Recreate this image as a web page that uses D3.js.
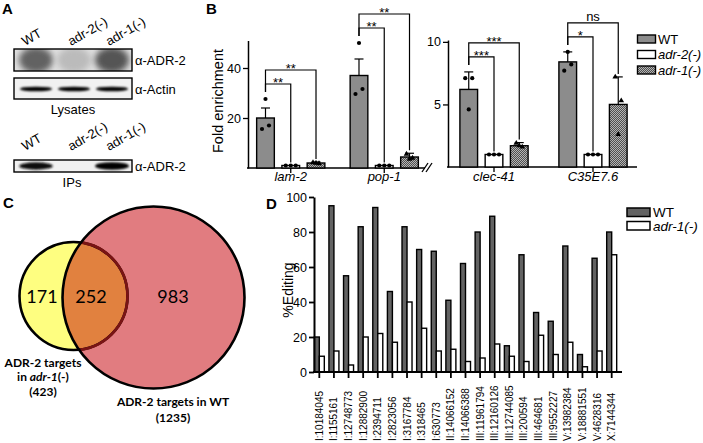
<!DOCTYPE html>
<html><head><meta charset="utf-8">
<script src="https://cdn.jsdelivr.net/npm/d3@7"></script>
<style>
html,body{margin:0;padding:0;background:#fff;}
svg{display:block;font-family:"Liberation Sans",Arial,sans-serif;}
</style></head>
<body>
<svg id="fig" width="703" height="443"></svg>
<script>
// ---------- Panel A data (relative band intensities) ----------
const blotLanes = ["WT", "adr-2(-)", "adr-1(-)"];
const lysateAdr2 = [0.75, 0.06, 0.85];
const lysateActin = [0.95, 0.95, 0.95];
const ipAdr2 = [0.9, 0.0, 1.0];

// ---------- Panel B data ----------
const genesLeft = ["lam-2", "pop-1"];
const genesRight = ["clec-41", "C35E7.6"];
const genesB = ["lam-2", "pop-1", "clec-41", "C35E7.6"];
const strainsB = ["WT", "adr-2(-)", "adr-1(-)"];
const meanWT = [20, 37, 6.2, 8.4];
const meanAdr2 = [1, 1, 1, 1];
const meanAdr1 = [2, 4.4, 1.7, 5.0];
const semWT = [4, 6.6, 1.4, 0.8];
const semAdr2 = [0, 0, 0, 0];
const semAdr1 = [0.4, 1.5, 0.25, 2.2];
const repWT = [[27.6, 17, 15.6], [50, 31.6, 29.6], [4.6, 7.1, 7.1], [9.2, 8.2, 7.7]];
const repAdr2 = [[1, 1, 1], [1, 1, 1], [1, 1, 1], [1, 1, 1]];
const repAdr1 = [[2.2, 1.8, 2.0], [5.6, 4.0, 3.6], [1.9, 1.6, 1.7], [7.2, 5.3, 2.6]];
const sigAdr2 = ["**", "**", "***", "*"];
const sigAdr1 = ["**", "**", "***", "ns"];
const ticksLeft = [20, 40];
const ticksRight = [5, 10];

// ---------- Panel C data ----------
const vennOnlyAdr1 = 171, vennBoth = 252, vennOnlyWT = 983;
const vennTotalAdr1 = 423, vennTotalWT = 1235;

// ---------- Panel D data ----------
const sites = ["I:10184045","I:1155161","I:12748773","I:12882900","I:2394711","I:2823056","I:3167784","I:318465","I:630773","II:14066152","II:14066388","III:11961794","III:12160126","III:12744085","III:200594","III:464681","III:9552227","V:13982384","V:18881551","V:4628316","X:7144344"];
const editWT =   [20, 95, 55, 83, 94, 46, 83, 70, 69, 41, 62, 80, 89, 15, 67, 34, 29, 72, 10, 65, 80];
const editAdr1 = [9, 12, 4, 20, 22, 17, 40, 25, 12, 13, 6, 8, 16, 9, 6, 21, 10, 17, 3, 12, 67];
const ticksD = [0, 20, 40, 60, 80, 100];
const strainsD = ["WT", "adr-1(-)"];

const svg = d3.select("#fig");
const defs = svg.append("defs");
defs.append("filter").attr("id","blurS").attr("x","-50%").attr("y","-50%").attr("width","200%").attr("height","200%")
  .append("feGaussianBlur").attr("stdDeviation", 3.2);
defs.append("filter").attr("id","blurB").attr("x","-50%").attr("y","-100%").attr("width","200%").attr("height","300%")
  .append("feGaussianBlur").attr("stdDeviation", 1.3);
const pat = defs.append("pattern").attr("id","hatch").attr("width",2).attr("height",2).attr("patternUnits","userSpaceOnUse");
pat.append("rect").attr("width",2).attr("height",2).attr("fill","#505050");
pat.append("rect").attr("width",1).attr("height",1).attr("fill","#b4b4b4");
pat.append("rect").attr("x",1).attr("y",1).attr("width",1).attr("height",1).attr("fill","#b4b4b4");

// panel letters
const letters = [["A",2,14],["B",206,14],["C",3,208],["D",266,209]];
svg.selectAll("text.letter").data(letters).join("text").attr("class","letter")
  .attr("x",d=>d[1]).attr("y",d=>d[2]).text(d=>d[0])
  .attr("font-weight","bold").attr("font-size",15);

// ================= Panel A =================
(function(){
  const g = svg.append("g");
  const lane = d3.scaleBand().domain(blotLanes).range([17, 131]);
  const bx0 = 14, bx1 = 132;
  function blot(y0, h, vals, kind){
    const gg = g.append("g");
    const cid = "clip"+y0;
    defs.append("clipPath").attr("id",cid).append("rect").attr("x",bx0).attr("y",y0).attr("width",bx1-bx0).attr("height",h);
    gg.append("rect").attr("x",bx0).attr("y",y0).attr("width",bx1-bx0).attr("height",h)
      .attr("fill", kind==="smudge" ? "#e2e2e2" : "#f1f1f1");
    const inner = gg.append("g").attr("clip-path",`url(#${cid})`);
    blotLanes.forEach((l,i)=>{
      const c = lane(l) + lane.bandwidth()/2;
      const v = vals[i];
      if (v <= 0) return;
      if (kind==="smudge"){
        inner.append("ellipse").attr("cx",c).attr("cy",y0+h/2).attr("rx",17).attr("ry",h/2+2)
          .attr("fill", d3.interpolateGreys(0.35+0.45*v)).attr("filter","url(#blurS)");
      } else if (kind==="thin"){
        inner.append("ellipse").attr("cx",c).attr("cy",y0+h/2+0.5).attr("rx",16).attr("ry",2.3)
          .attr("fill", d3.interpolateGreys(0.6+0.4*v)).attr("filter","url(#blurB)");
      } else {
        inner.append("ellipse").attr("cx",c).attr("cy",y0+h/2).attr("rx",15+2*v).attr("ry",2.6+1.2*v)
          .attr("fill", d3.interpolateGreys(0.55+0.45*v)).attr("filter","url(#blurB)");
      }
    });
    gg.append("rect").attr("x",bx0).attr("y",y0).attr("width",bx1-bx0).attr("height",h)
      .attr("fill","none").attr("stroke","#000").attr("stroke-width",1.4);
  }
  blot(49, 22, lysateAdr2, "smudge");
  blot(78, 21, lysateActin, "thin");
  blot(160, 12, ipAdr2, "band");
  const fs = 13;
  [["α-ADR-2",65],["α-Actin",94],["α-ADR-2",171]].forEach(t=>{
    g.append("text").attr("x",135).attr("y",t[1]).attr("font-size",fs).text(t[0]);
  });
  g.append("text").attr("x",73).attr("y",114).attr("text-anchor","middle").attr("font-size",fs).text("Lysates");
  g.append("text").attr("x",72).attr("y",187).attr("text-anchor","middle").attr("font-size",fs).text("IPs");
  [46, 151].forEach(yb=>{
    blotLanes.forEach((l,i)=>{
      const c = lane(l) + lane.bandwidth()/2;
      const x = c - (i===0 ? 11 : 3);
      g.append("text").attr("transform",`translate(${x},${yb}) rotate(-30)`)
        .attr("font-size",13).text(l);
    });
  });
})();

// ================= Panel B =================
(function(){
  const g = svg.append("g");
  const yL = d3.scaleLinear().domain([0, 51]).range([168, 40.5]);
  const yR = d3.scaleLinear().domain([0, 10.15]).range([167, 40]);
  const xL = d3.scaleBand().domain(genesLeft).range([244, 431]);
  const xR = d3.scaleBand().domain(genesRight).range([444.5, 642.5]);
  const inner = d3.scaleBand().domain(strainsB).range([-34.1, 34.1]).paddingInner(0.3);
  const bw = inner.bandwidth();
  const means = [meanWT, meanAdr2, meanAdr1];
  const sems = [semWT, semAdr2, semAdr1];
  const reps = [repWT, repAdr2, repAdr1];
  const fills = ["#8c8c8c", "#ffffff", "url(#hatch)"];
  const jit = [[0, 3.5, -3.5], [-5, 0, 5], [-3, 3, 0]];

  const axL = g.append("g").attr("transform","translate(248,0)")
    .call(d3.axisLeft(yL).tickValues(ticksLeft).tickSize(5).tickSizeOuter(0).tickPadding(2));
  const axR = g.append("g").attr("transform","translate(448,0)")
    .call(d3.axisLeft(yR).tickValues(ticksRight).tickSize(5).tickSizeOuter(0).tickPadding(2));
  [axL, axR].forEach(a=>{
    a.select(".domain").attr("stroke-width",1.5);
    a.selectAll(".tick line").attr("stroke-width",1.3);
    a.selectAll("text").attr("font-size",12.5).attr("font-family","Liberation Sans, Arial, sans-serif");
  });
  g.append("line").attr("x1",247).attr("x2",425).attr("y1",168).attr("y2",168).attr("stroke","#000").attr("stroke-width",1.5);
  g.append("line").attr("x1",447).attr("x2",637).attr("y1",167).attr("y2",167).attr("stroke","#000").attr("stroke-width",1.5);
  [[422,428],[426,432]].forEach(p=>{
    g.append("line").attr("x1",p[0]).attr("y1",172).attr("x2",p[1]).attr("y2",163).attr("stroke","#000").attr("stroke-width",1.3);
  });
  g.append("text").attr("transform","translate(223,101) rotate(-90)").attr("text-anchor","middle")
    .attr("font-size",14.5).text("Fold enrichment");

  genesB.forEach((gene, gi)=>{
    const left = gi < 2;
    const x = left ? xL : xR, y = left ? yL : yR;
    const gc = x(gene) + x.bandwidth()/2;
    const base = left ? 168 : 167;
    const c2 = gc + inner("adr-2(-)") + bw/2;
    g.append("line").attr("x1",c2).attr("x2",c2).attr("y1",base).attr("y2",base+5).attr("stroke","#000").attr("stroke-width",1.3);
    g.append("text").attr("x",c2).attr("y",181).attr("text-anchor","middle").attr("font-style","italic")
      .attr("font-size",13).text(gene);
    strainsB.forEach((s, si)=>{
      const bx = gc + inner(s);
      const m = means[si][gi], e = sems[si][gi];
      const cx = bx + bw/2;
      if (e > 0){
        g.append("line").attr("x1",cx).attr("x2",cx).attr("y1",y(m)).attr("y2",y(m+e)).attr("stroke","#000").attr("stroke-width",1.2);
        g.append("line").attr("x1",cx-4.5).attr("x2",cx+4.5).attr("y1",y(m+e)).attr("y2",y(m+e)).attr("stroke","#000").attr("stroke-width",1.2);
      }
      g.append("rect").attr("x",bx).attr("y",y(m)).attr("width",bw).attr("height",base-y(m))
        .attr("fill",fills[si]).attr("stroke","#000").attr("stroke-width",1.4);
      reps[si][gi].forEach((r, ri)=>{
        const px = cx + jit[si][ri], py = y(r);
        if (si === 2){
          g.append("path").attr("d", d3.symbol(d3.symbolTriangle, 14)()).attr("transform",`translate(${px},${py})`).attr("fill","#000");
        } else {
          g.append("circle").attr("cx",px).attr("cy",py).attr("r",2.1).attr("fill","#000");
        }
      });
    });
    const cW = gc + inner("WT") + bw/2;
    const topWT = Math.max(meanWT[gi]+semWT[gi], d3.max(repWT[gi]));
    const lvl1 = y(topWT) - 15, lvl2 = lvl1 - 14;
    const legBottom = y(topWT) - 7;
    [[1, lvl1, sigAdr2[gi]], [2, lvl2, sigAdr1[gi]]].forEach(([si, ly, lab])=>{
      const s = strainsB[si];
      const cx = gc + inner(s) + bw/2;
      const tgt = Math.max(means[si][gi]+sems[si][gi], d3.max(reps[si][gi]));
      const rb = y(tgt) - 3;
      g.append("path").attr("d",`M${cW},${legBottom}V${ly}H${cx}V${rb}`)
        .attr("fill","none").attr("stroke","#000").attr("stroke-width",1.2);
      const isNs = lab === "ns";
      g.append("text").attr("x",(cW+cx)/2).attr("y", isNs ? ly-2 : ly+3).attr("text-anchor","middle")
        .attr("font-size", 13).text(lab);
    });
  });
  const leg = g.append("g");
  strainsB.forEach((s, si)=>{
    const yy = 35 + si*15.5;
    leg.append("rect").attr("x",637.5).attr("y",yy).attr("width",18).attr("height",8)
      .attr("fill",fills[si]).attr("stroke","#000").attr("stroke-width",1.4);
    leg.append("text").attr("x",658).attr("y",yy+8.5).attr("font-size",13)
      .attr("font-style", si===0 ? "normal" : "italic").text(s);
  });
})();

// ================= Panel C =================
(function(){
  const g = svg.append("g");
  const pink = {cx:153.5, cy:297.5, r:91};
  const yel = {cx:73.5, cy:296, r:54};
  defs.append("clipPath").attr("id","clipYel").append("circle").attr("cx",yel.cx).attr("cy",yel.cy).attr("r",yel.r);
  defs.append("clipPath").attr("id","clipPink").append("circle").attr("cx",pink.cx).attr("cy",pink.cy).attr("r",pink.r);
  g.append("circle").attr("cx",pink.cx).attr("cy",pink.cy).attr("r",pink.r).attr("fill","#e17c80");
  g.append("circle").attr("cx",yel.cx).attr("cy",yel.cy).attr("r",yel.r).attr("fill","#fefe80");
  g.append("circle").attr("cx",pink.cx).attr("cy",pink.cy).attr("r",pink.r).attr("fill","#e1813f").attr("clip-path","url(#clipYel)");
  g.append("circle").attr("cx",yel.cx).attr("cy",yel.cy).attr("r",yel.r).attr("fill","none").attr("stroke","#000").attr("stroke-width",2.6);
  g.append("circle").attr("cx",yel.cx).attr("cy",yel.cy).attr("r",yel.r).attr("fill","none").attr("stroke","#7a1414").attr("stroke-width",2.8).attr("clip-path","url(#clipPink)");
  g.append("circle").attr("cx",pink.cx).attr("cy",pink.cy).attr("r",pink.r).attr("fill","none").attr("stroke","#000").attr("stroke-width",2.6);
  const nf = "Lato, 'Open Sans', sans-serif";
  [[vennOnlyAdr1,42],[vennBoth,91],[vennOnlyWT,173]].forEach(d=>{
    g.append("text").attr("x",d[1]).attr("y",303).attr("text-anchor","middle").attr("font-family",nf).attr("font-size",18).text(d[0]);
  });
  const lab = g.append("g").attr("font-family",nf).attr("font-weight","bold").attr("font-size",12).attr("text-anchor","middle");
  lab.append("text").attr("x",43).attr("y",367).text("ADR-2 targets");
  const t2 = lab.append("text").attr("x",43).attr("y",381);
  t2.append("tspan").text("in ");
  t2.append("tspan").attr("font-style","italic").text("adr-1");
  t2.append("tspan").text("(-)");
  lab.append("text").attr("x",43).attr("y",396).text(`(${vennTotalAdr1})`);
  lab.append("text").attr("x",173).attr("y",406).text("ADR-2 targets in WT");
  lab.append("text").attr("x",173).attr("y",422).text(`(${vennTotalWT})`);
})();

// ================= Panel D =================
(function(){
  const g = svg.append("g");
  const y = d3.scaleLinear().domain([0,100]).range([372,197]);
  const x = d3.scaleBand().domain(sites).range([312, 619]);
  const inner = d3.scaleBand().domain(strainsD).range([-5, 5]);
  const vals = [editWT, editAdr1];
  const fills = ["#636363", "#ffffff"];
  sites.forEach((s, i)=>{
    const c = x(s) + x.bandwidth()/2;
    strainsD.forEach((st, si)=>{
      const v = vals[si][i];
      g.append("rect").attr("x", c + inner(st)).attr("y", y(v)).attr("width", inner.bandwidth()).attr("height", y(0)-y(v))
        .attr("fill", fills[si]).attr("stroke","#000").attr("stroke-width",1.4);
    });
    g.append("line").attr("x1",c).attr("x2",c).attr("y1",372).attr("y2",378).attr("stroke","#000").attr("stroke-width",1.8);
    g.append("text").attr("transform",`translate(${c+3.5},441) rotate(-90)`).attr("font-size",10).text(s);
  });
  const ax = g.append("g").attr("transform","translate(314,0)")
    .call(d3.axisLeft(y).tickValues(ticksD).tickSize(5).tickSizeOuter(0).tickPadding(2));
  ax.select(".domain").attr("stroke-width",2);
  ax.selectAll(".tick line").attr("stroke-width",1.8);
  ax.selectAll("text").attr("font-size",12.5).attr("font-family","Liberation Sans, Arial, sans-serif");
  g.append("line").attr("x1",313).attr("x2",622).attr("y1",372).attr("y2",372).attr("stroke","#000").attr("stroke-width",2);
  g.append("text").attr("transform","translate(293,290) rotate(-90)").attr("text-anchor","middle").attr("font-size",14).text("%Editing");
  strainsD.forEach((st, si)=>{
    const yy = 208 + si*13.5;
    g.append("rect").attr("x",627).attr("y",yy).attr("width",23).attr("height",8.5)
      .attr("fill",fills[si]).attr("stroke","#000").attr("stroke-width",1.5);
    g.append("text").attr("x",653).attr("y",yy+9).attr("font-size",13.5)
      .attr("font-style", si===0 ? "normal" : "italic").text(st);
  });
})();
</script>
</body></html>
